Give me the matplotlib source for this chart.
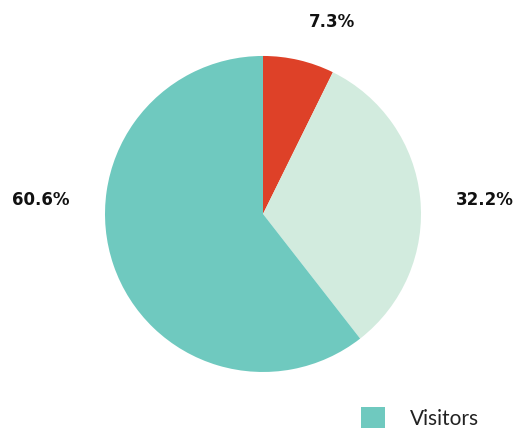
import matplotlib.pyplot as plt
from matplotlib.patches import Patch

shares = [7.3, 32.2, 60.6]
colors = ["#DE4128", "#D2EBDE", "#6FC9BF"]
legend_labels = ["Visitors"]
# label positions in pie-radius units
label_pos = [(0.437, 1.215), (1.405, 0.089), (-1.405, 0.089)]

plt.rcParams["font.family"] = ["Lato", "DejaVu Sans"]

fig = plt.figure(figsize=(5.17, 4.41), dpi=100)
ax = fig.add_axes([0.2031, 0.1565, 0.6112, 0.7166])

wedges, texts = ax.pie(shares, colors=colors, startangle=90, counterclock=False,
                       radius=1, wedgeprops=dict(linewidth=0))
for v, pos in zip(shares, label_pos):
    ax.text(pos[0], pos[1], f"{v:.1f}%", ha="center", va="center",
            fontsize=12, fontweight="bold", family="DejaVu Sans",
            color="#111111", clip_on=False)

ax.set_xlim(-1, 1)
ax.set_ylim(-1, 1)
ax.set_aspect("auto")
ax.axis("off")

handles = [Patch(facecolor=colors[2], edgecolor="none")]
fig.legend(handles, legend_labels, loc="center left", bbox_to_anchor=(0.662, 0.052),
           frameon=False, fontsize=15, handlelength=1.15, handleheight=1.15,
           handletextpad=1.2, labelcolor="#222222")

fig.savefig("out.png", dpi=100)
